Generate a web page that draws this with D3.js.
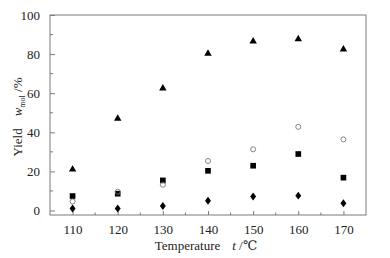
<!DOCTYPE html>
<html>
<head>
<meta charset="utf-8">
<script src="https://cdn.jsdelivr.net/npm/d3@7"></script>
<style>
  html, body { margin: 0; padding: 0; background: #fff; }
</style>
</head>
<body>
<div id="chart"></div>
<script>
const temps = [110, 120, 130, 140, 150, 160, 170];
const triangleSeries = [21, 47, 62.5, 80.3, 86.5, 87.7, 82.4];
const squareSeries = [7.4, 8.6, 15.4, 20.3, 22.9, 28.9, 16.8];
const circleSeries = [4.6, 9.6, 13.2, 25.3, 31.3, 42.8, 36.4];
const diamondSeries = [1, 1, 2.3, 5, 7.2, 7.6, 3.7];
const xTicks = [110, 120, 130, 140, 150, 160, 170];
const yTicks = [0, 20, 40, 60, 80, 100];

const width = 390, height = 258;
const margin = { top: 15, right: 24, bottom: 43, left: 50 };
const w = width - margin.left - margin.right, h = height - margin.top - margin.bottom;
const serif = "'Liberation Serif', 'Times New Roman', Times, 'DejaVu Serif', serif";

const svg = d3.select("#chart").append("svg")
    .attr("width", width)
    .attr("height", height)
    .attr("font-family", serif);

const g = svg.append("g").attr("transform", `translate(${margin.left},${margin.top})`);

const x = d3.scaleLinear().domain([105, 175]).range([0, w]);
const y = d3.scaleLinear().domain([-2.3, 100]).range([h, 0]);

// frame
g.append("rect")
    .attr("width", w).attr("height", h)
    .attr("fill", "none").attr("stroke", "#7a7a7a").attr("stroke-width", 1);

// minor ticks
const xMinor = d3.range(115, 175, 10);
const yMinor = d3.range(10, 100, 20);
g.selectAll(".xminor").data(xMinor).enter().append("line")
    .attr("x1", d => x(d)).attr("x2", d => x(d))
    .attr("y1", h).attr("y2", h - 2.5)
    .attr("stroke", "#7a7a7a");
g.selectAll(".yminor").data(yMinor).enter().append("line")
    .attr("x1", 0).attr("x2", 3)
    .attr("y1", d => y(d)).attr("y2", d => y(d))
    .attr("stroke", "#7a7a7a");

// axes with inward ticks
const xAxis = g.append("g")
    .attr("transform", `translate(0,${h})`)
    .call(d3.axisBottom(x).tickValues(xTicks).tickSizeInner(-4).tickSizeOuter(0).tickPadding(10));
const yAxis = g.append("g")
    .call(d3.axisLeft(y).tickValues(yTicks).tickSizeInner(-5).tickSizeOuter(0).tickPadding(10));

[xAxis, yAxis].forEach(a => {
    a.attr("font-family", serif).attr("font-size", 13);
    a.select(".domain").remove();
    a.selectAll(".tick line").attr("stroke", "#7a7a7a");
    a.selectAll(".tick text").attr("fill", "#222");
});

// markers
const series = [
    { values: triangleSeries, type: d3.symbolTriangle, size: 24, fill: "#000", stroke: "none" },
    { values: squareSeries, type: d3.symbolSquare, size: 32, fill: "#000", stroke: "none" },
    { values: circleSeries, type: d3.symbolCircle, size: 20, fill: "none", stroke: "#777" },
    { values: diamondSeries, type: d3.symbolDiamond, size: 18, fill: "#000", stroke: "none", sx: 1.3 }
];

series.forEach(s => {
    g.selectAll(null)
        .data(temps.map((t, i) => ({ t, v: s.values[i] })))
        .enter()
        .append("path")
        .attr("transform", d => `translate(${x(d.t)},${y(d.v)}) scale(${s.sx || 1},1)`)
        .attr("d", d3.symbol().type(s.type).size(s.size))
        .attr("fill", s.fill)
        .attr("stroke", s.stroke)
        .attr("stroke-width", 0.9);
});

// axis titles
const xt = svg.append("text")
    .attr("x", margin.left + w / 2 - 2)
    .attr("y", 250)
    .attr("text-anchor", "middle")
    .attr("fill", "#222")
    .attr("font-size", 13);
xt.append("tspan").text("Temperature");
xt.append("tspan").attr("dx", 12).attr("font-style", "italic").text("t");
xt.append("tspan").text(" /℃");

const yt = svg.append("text")
    .attr("transform", `translate(22,${margin.top + h / 2 + 2}) rotate(-90)`)
    .attr("text-anchor", "middle")
    .attr("fill", "#222")
    .attr("font-size", 13);
yt.append("tspan").text("Yield");
yt.append("tspan").attr("dx", 12).attr("font-style", "italic").text("w");
yt.append("tspan").attr("dy", 3).attr("font-size", 8).text("mol");
yt.append("tspan").attr("dy", -3).text(" /%");
</script>
</body>
</html>
